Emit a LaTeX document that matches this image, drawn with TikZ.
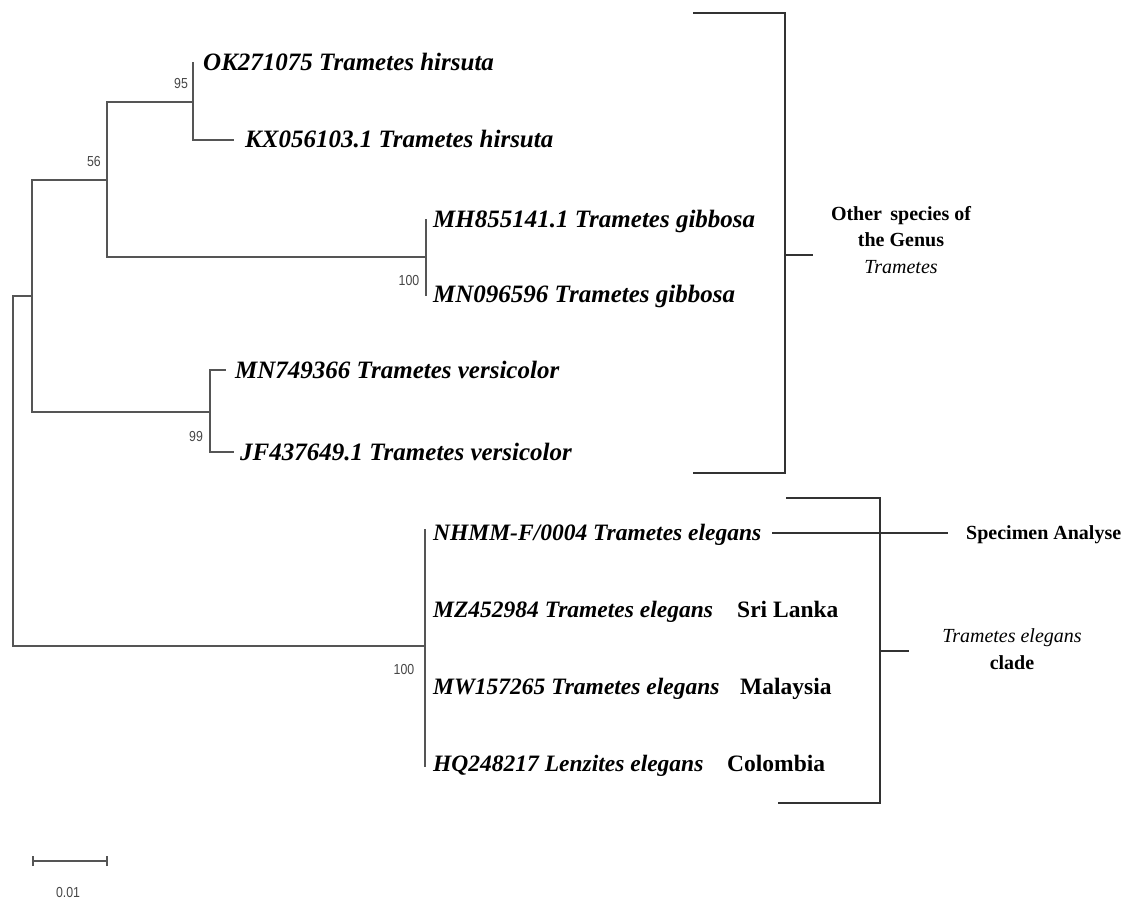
\documentclass[tikz,border=0pt]{standalone}
\usepackage{fontspec}
\setmainfont{Liberation Serif}
\newfontfamily\bootfont{Liberation Sans}[FakeStretch=0.85]
\definecolor{treegray}{RGB}{85,85,85}
\definecolor{brackgray}{RGB}{50,50,50}
\definecolor{bootgray}{RGB}{70,70,70}
\begin{document}
\begin{tikzpicture}[x=1pt,y=-1pt,
  branch/.style={draw=treegray, line width=1.6pt, line cap=rect},
  brack/.style={draw=brackgray, line width=1.6pt},
  taxon/.style={anchor=base west, inner sep=0pt, font=\fontsize{25}{30}\selectfont\bfseries\itshape},
  taxonb/.style={anchor=base west, inner sep=0pt, font=\fontsize{23.5}{28}\selectfont\bfseries\itshape},
  country/.style={anchor=base west, inner sep=0pt, font=\fontsize{23.5}{28}\selectfont\bfseries},
  boot/.style={inner sep=0pt, text=bootgray, font=\bootfont\fontsize{14.5}{17}\selectfont},
  annot/.style={inner sep=0pt, align=center, font=\fontsize{20}{26.5}\selectfont\bfseries}]
\useasboundingbox (0,0) rectangle (1135,901);

% internal nodes
\coordinate (rT) at (13,296);
\coordinate (rB) at (13,646);
\coordinate (B) at (32,296);
\coordinate (Bt) at (32,180);
\coordinate (Bb) at (32,412);
\coordinate (C) at (107,180);
\coordinate (Ct) at (107,102);
\coordinate (Cb) at (107,257);
\coordinate (D) at (193,102);
\coordinate (E) at (426,257);
\coordinate (F) at (210,412);
\coordinate (G) at (425,646);

% tips
\coordinate (t1) at (193,63);
\coordinate (t2a) at (193,140); \coordinate (t2) at (233,140);
\coordinate (t3) at (426,220);
\coordinate (t4) at (426,295);
\coordinate (t5a) at (210,370); \coordinate (t5) at (225,370);
\coordinate (t6a) at (210,452); \coordinate (t6) at (233,452);
\coordinate (t7) at (425,530);
\coordinate (t8) at (425,609);
\coordinate (t9) at (425,686);
\coordinate (t10) at (425,766);

% branches
\draw[branch] (rT) -- (rB);
\draw[branch] (rT) -- (B);
\draw[branch] (Bt) -- (Bb);
\draw[branch] (Bt) -- (C);
\draw[branch] (Ct) -- (Cb);
\draw[branch] (Ct) -- (D);
\draw[branch] (t1) -- (t2a) -- (t2);
\draw[branch] (Cb) -- (E);
\draw[branch] (t3) -- (t4);
\draw[branch] (Bb) -- (F);
\draw[branch] (t5) -- (t5a) -- (t6a) -- (t6);
\draw[branch] (rB) -- (G);
\draw[branch] (t7) -- (t10);

% labels
\node[taxon] (l1) at (203,71) {OK271075 Trametes hirsuta};
\node[taxon] (l2) at (245,148) {KX056103.1 Trametes hirsuta};
\node[taxon] (l3) at (433,228) {MH855141.1 Trametes gibbosa};
\node[taxon] (l4) at (433,303) {MN096596 Trametes gibbosa};
\node[taxon] (l5) at (235,378) {MN749366 Trametes versicolor};
\node[taxon] (l6) at (240,460) {JF437649.1 Trametes versicolor};
\node[taxonb] (l7) at (433,540) {NHMM-F/0004 Trametes elegans};
\node[taxonb] (l8) at (433,617) {MZ452984 Trametes elegans};
\node[taxonb] (l9) at (433,694) {MW157265 Trametes elegans};
\node[taxonb] (l10) at (433,771) {HQ248217 Lenzites elegans};

\node[country] (c1) at (737,617) {Sri Lanka};
\node[country] (c2) at (740,694) {Malaysia};
\node[country] (c3) at (727,771) {Colombia};

% bootstrap
\node[boot] (b95) at (181,84) {95};
\node[boot] (b56) at (94,162) {56};
\node[boot] (b100a) at (409,281) {100};
\node[boot] (b99) at (196,437) {99};
\node[boot] (b100b) at (404,670) {100};

% brackets
\coordinate (u1) at (693,13); \coordinate (u2) at (785,13);
\coordinate (u3) at (785,473); \coordinate (u4) at (693,473);
\coordinate (um) at (785,255); \coordinate (ut) at (813,255);
\draw[brack] (u1) -- (u2) -- (u3) -- (u4);
\draw[brack] (um) -- (ut);
\node[annot] (other) at (901,240) {Other\, species of\\the Genus\\\normalfont\itshape Trametes};

\coordinate (e1) at (786,498); \coordinate (e2) at (880,498);
\coordinate (e3) at (880,803); \coordinate (e4) at (778,803);
\coordinate (em) at (880,651); \coordinate (et) at (909,651);
\draw[brack] (e1) -- (e2) -- (e3) -- (e4);
\draw[brack] (em) -- (et);
\node[annot] (clade) at (1012,649) {{\normalfont\itshape Trametes elegans}\\clade};

\coordinate (s1) at (772,533); \coordinate (s2) at (948,533);
\draw[brack] (s1) -- (s2);
\node[annot, anchor=west, font=\fontsize{20}{26}\selectfont\bfseries] (spec) at (966,535) {Specimen Analyse};

% scale bar
\coordinate (sb1) at (33,861); \coordinate (sb2) at (107,861);
\draw[branch, line cap=butt] (sb1) -- (sb2);
\draw[branch, line cap=butt, line width=1.2pt] ([yshift=-5]sb1) -- ([yshift=5]sb1);
\draw[branch, line cap=butt, line width=1.2pt] ([yshift=-5]sb2) -- ([yshift=5]sb2);
\node[boot] (sbl) at (68,893) {0.01};
\end{tikzpicture}
\end{document}
